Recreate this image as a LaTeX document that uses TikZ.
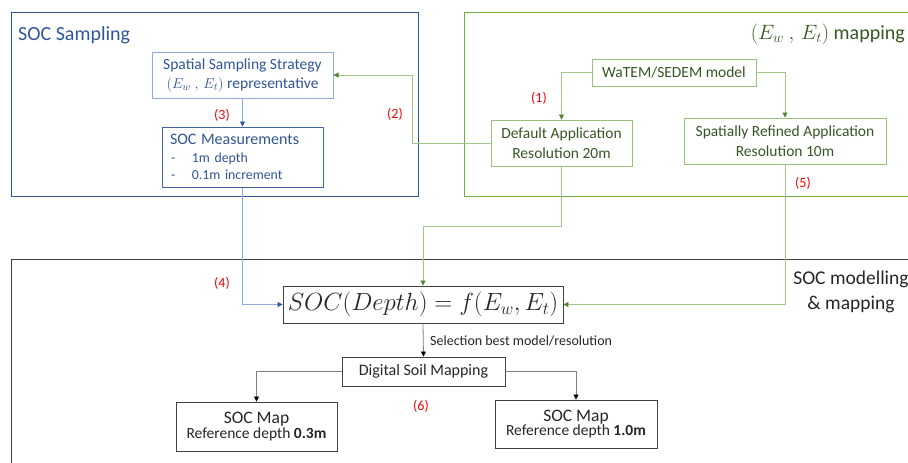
\documentclass[tikz,border=0pt]{standalone}
\usepackage{fontspec}
\setmainfont{Carlito}
\usetikzlibrary{arrows.meta}
\definecolor{bluedark}{HTML}{2F5597}
\definecolor{bluemid}{HTML}{4472C4}
\definecolor{bluelight}{HTML}{8FAADC}
\definecolor{greendark}{HTML}{548235}
\definecolor{greenmid}{HTML}{70AD47}
\definecolor{greenlight}{HTML}{A9D18E}
\definecolor{greentext}{HTML}{375623}
\definecolor{graydark}{HTML}{404040}
\definecolor{txtblack}{HTML}{262626}
\newcommand{\fs}[2]{\fontsize{#1}{#2}\selectfont}
\begin{document}
\begin{tikzpicture}[x=1pt,y=-1pt,
  frame/.style={draw, line width=1.4pt, minimum width=#1, inner sep=0pt, anchor=north west},
  bbox/.style={draw=bluelight, line width=1pt, text=bluedark, align=center, inner sep=0pt},
  gbox/.style={draw=greenlight!80!greendark, line width=1pt, text=greentext, align=center, inner sep=0pt},
  kbox/.style={draw=graydark, line width=0.9pt, text=txtblack, align=center, inner sep=0pt},
  num/.style={text=red, font=\fs{14}{16}},
  gconn/.style={draw=greenlight!85!gray, line width=0.8pt, -{Triangle[width=5pt,length=5pt,color=greendark]}},
  bconn/.style={draw=bluelight, line width=0.8pt, -{Triangle[width=5pt,length=5pt,color=bluedark]}},
  kconn/.style={draw=gray, line width=0.8pt, -{Triangle[width=5pt,length=5pt,color=black]}}
]
\useasboundingbox (0,0) rectangle (908,463);
\clip (0,0) rectangle (908,463);
% outer frames
\node[frame=407pt, draw=bluedark, minimum height=184pt] (samp) at (11,12) {};
\node[frame=460pt, draw=greenmid, minimum height=184pt] (mapf) at (464,12) {};
\node[frame=910pt, draw=graydark, minimum height=220pt] (modf) at (11,259) {};
% titles
\node[anchor=west, text=bluedark, font=\fs{20}{24}, inner sep=0pt] (t1) at (18,35) {SOC Sampling};
\node[anchor=east, text=greentext, font=\fs{20}{24}, inner sep=0pt] (t2) at (905,34) {$(E_w\ ,\,E_t)$ mapping};
\node[text=txtblack, font=\fs{19.5}{25}, align=center, inner sep=0pt] (t3) at (851,292) {SOC modelling\\\& mapping};
% sampling boxes
\node[bbox, minimum width=181pt, minimum height=46pt, font=\fs{15.5}{19}] (sss) at (242.5,75) {Spatial Sampling Strategy\\$(E_w\ ,\,E_t)$ representative};
\node[bbox, draw=bluedark!80!bluelight, text width=145pt, align=left, inner xsep=8pt, minimum height=60pt, font=\fs{13.8}{17.5}] (meas) at (242.5,157) {{\fs{16}{17.5}SOC Measurements}\\\makebox[22pt][l]{\hspace{1pt}-}1m depth\\\makebox[22pt][l]{\hspace{1pt}-}0.1m increment};
% mapping boxes
\node[gbox, minimum width=164pt, minimum height=27pt, font=\fs{15.5}{19}] (watem) at (674,72.5) {WaTEM/SEDEM model};
\node[gbox, minimum width=141pt, minimum height=46pt, font=\fs{15.5}{20}] (def) at (561.5,143) {Default Application\\Resolution 20m};
\node[gbox, minimum width=202pt, minimum height=46pt, font=\fs{15.5}{20}] (ref) at (785,141) {Spatially Refined Application\\Resolution 10m};
% modelling boxes
\node[kbox, minimum width=280pt, minimum height=37pt, font=\fs{23}{27}] (soc) at (423,304.5) {$SOC(Depth) = f(E_w, E_t)$};
\node[kbox, minimum width=163pt, minimum height=29pt, font=\fs{16}{19}] (dsm) at (423.5,371.5) {Digital Soil Mapping};
\node[kbox, minimum width=161pt, minimum height=49pt] (map1) at (256.5,426.5) {{\fs{17.5}{21}SOC Map}\\{\fs{15.5}{21}Reference depth \textbf{0.3m}}};
\node[kbox, minimum width=162pt, minimum height=48pt] (map2) at (576,424) {{\fs{17.5}{21}SOC Map}\\{\fs{15.5}{21}Reference depth \textbf{1.0m}}};
% numbers
\node[num] (n1) at (539,98) {(1)};
\node[num] (n2) at (395,114) {(2)};
\node[num] (n3) at (222,115) {(3)};
\node[num] (n4) at (222,283) {(4)};
\node[num] (n5) at (803,183) {(5)};
\node[num] (n6) at (421,406) {(6)};
\node[anchor=west, text=txtblack, font=\fs{14}{16}, inner sep=0pt] (sel) at (430,341) {Selection best model/resolution};
% connectors
\draw[gconn] (watem.west) -| (def.north);
\draw[gconn] (watem.east) -| (ref.north);
\draw[gconn] (def.west) -- ++(-78,0) |- (sss.east);
\draw[bconn] (sss.south) -- (meas.north);
\draw[bconn] (meas.south) |- (soc.west);
\draw[gconn] (def.south) -- ++(0,60) -| (soc.north);
\draw[gconn] (ref.south) |- (soc.east);
\draw[kconn] (soc.south) -- (dsm.north);
\draw[kconn] (dsm.west) -| (map1.north);
\draw[kconn] (dsm.east) -| (map2.north);
\end{tikzpicture}
\end{document}
